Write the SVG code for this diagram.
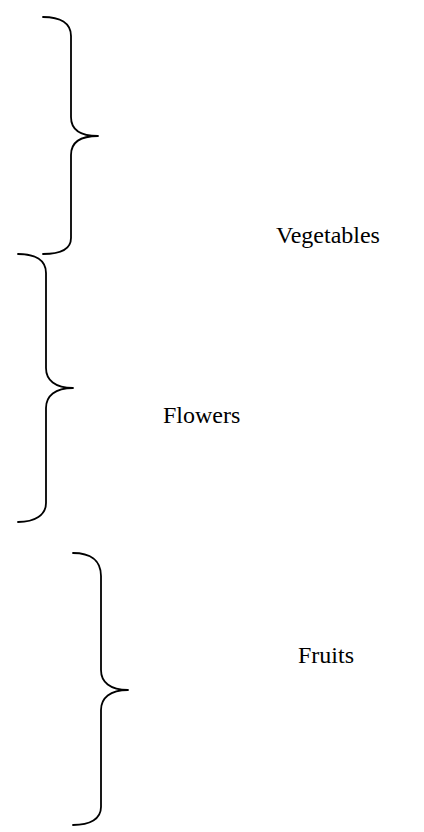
<svg xmlns="http://www.w3.org/2000/svg" width="424" height="832" viewBox="0 0 424 832">
  <style>
    .brace { fill: none; stroke: #000; stroke-width: 1.8; stroke-linecap: round; stroke-linejoin: round; }
    .label { font-family: "Liberation Serif", "Times New Roman", serif; font-size: 24px; fill: #000; }
  </style>
  <rect width="424" height="832" fill="#fff"/>
  <!-- curly braces, one per group -->
  <g id="connectors">
    <path class="brace" d="M43,17 C60,17 71,23 71,36 L71,117 C71,129 80,136 98,136 C80,136 71,143 71,155 L71,238 C71,249 60,254 43,254"/>
    <path class="brace" d="M18,254 C35,254 46,260 46,273 L46,368 C46,380 55,388 73,388 C55,388 46,396 46,408 L46,503 C46,515 35,522 18,522"/>
    <path class="brace" d="M73,553 C90,553 101,560 101,576 L101,670 C101,682 110,690 128,690 C110,690 101,698 101,710 L101,807 C101,819 90,825 73,825"/>
  </g>
  <g id="vegetables"><text class="label" x="276" y="243">Vegetables</text></g>
  <g id="flowers"><text class="label" x="163" y="423">Flowers</text></g>
  <g id="fruits"><text class="label" x="298" y="663">Fruits</text></g>
</svg>
